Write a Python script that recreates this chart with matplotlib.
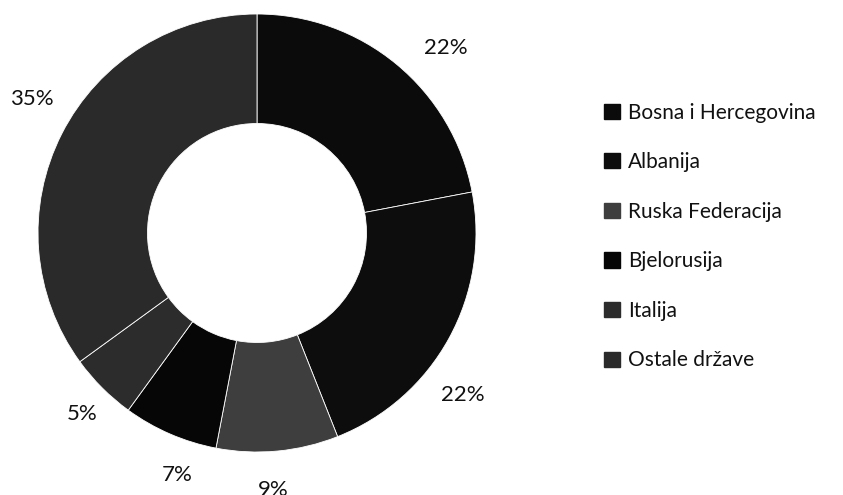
import matplotlib
matplotlib.use("Agg")
import numpy as np
import matplotlib.pyplot as plt
from matplotlib.patches import Patch

categories = ["Bosna i Hercegovina", "Albanija", "Ruska Federacija",
              "Bjelorusija", "Italija", "Ostale države"]
values = [22, 22, 9, 7, 5, 35]
colors = ["#0b0b0b", "#0d0d0d", "#3e3e3e", "#060606", "#2c2c2c", "#2a2a2a"]

# label placement styling (radial distance, clockwise angle shift in deg)
label_radius = [1.208, 1.197, 1.176, 1.164, 1.15, 1.196]
label_shift = [6.0, 9.4, 1.8, -5.1, -1.0, 3.8]

plt.rcParams['font.family'] = ['Lato', 'DejaVu Sans']

W, H = 843, 495
fig = plt.figure(figsize=(W / 100, H / 100), dpi=100)
ax = fig.add_axes([0, 0, 1, 1])

R = 219.0
cx, cy = 257.0, 233.0

wedges, texts, autotexts = ax.pie(
    values, colors=colors, startangle=90, counterclock=False,
    radius=1.0, autopct='%1.0f%%', pctdistance=1.17,
    wedgeprops=dict(width=0.5, edgecolor='white', linewidth=0.6),
    textprops=dict(fontsize=16, color='#111111'))

for w, t, r, s in zip(wedges, autotexts, label_radius, label_shift):
    ang = np.deg2rad((w.theta1 + w.theta2) / 2.0 - s)
    t.set_position((r * np.cos(ang), r * np.sin(ang)))
    t.set_ha('center')
    t.set_va('center')

ax.set_aspect('auto')
ax.set_xlim(-cx / R, (W - cx) / R)
ax.set_ylim(-(H - cy) / R, cy / R)
ax.axis('off')

handles = [Patch(facecolor=c, edgecolor=c) for c in colors]
fig.legend(handles, categories, loc='center left',
           bbox_to_anchor=(596 / W, 1 - 236.5 / H), frameon=False,
           fontsize=15, handlelength=0.75, handleheight=0.75,
           handletextpad=0.38, labelspacing=1.42, borderaxespad=0,
           labelcolor='#111111')

fig.savefig("out.png", dpi=100, facecolor='white')
